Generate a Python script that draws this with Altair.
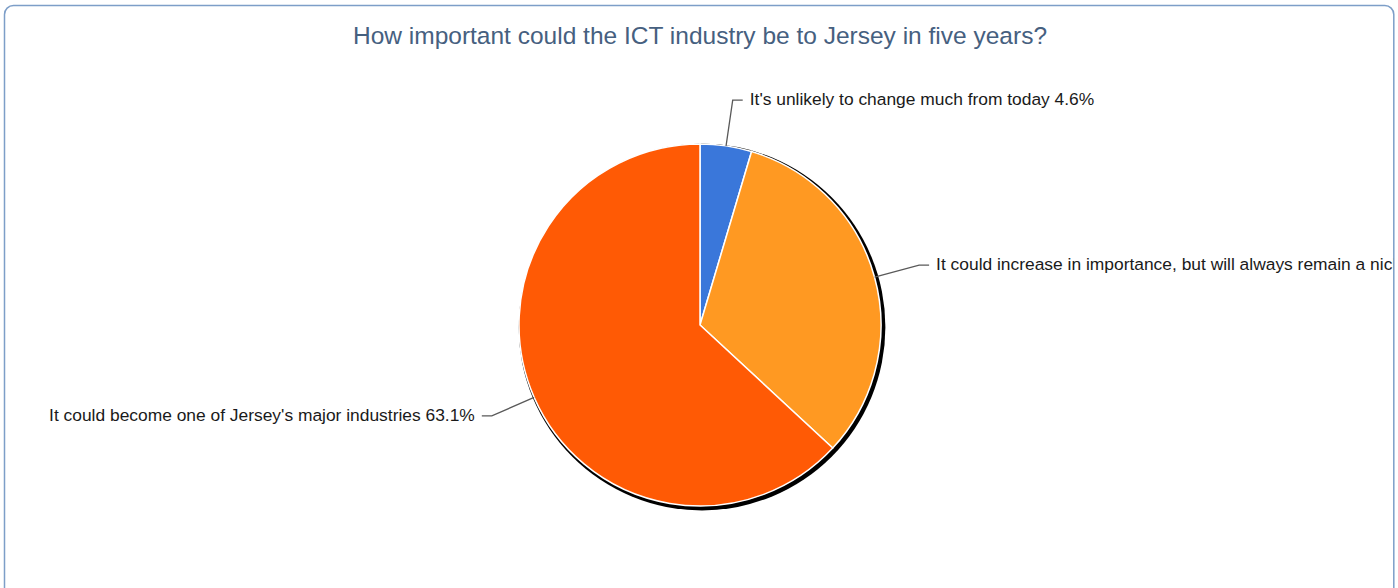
import math
import altair as alt
import pandas as pd

# ---- data ----
categories = [
    "It's unlikely to change much from today",
    "It could increase in importance, but will always remain a niche industry",
    "It could become one of Jersey's major industries",
]
shares = [4.6, 32.3, 63.1]
colors = ["#3A77DA", "#FF9922", "#FF5A05"]
title_text = "How important could the ICT industry be to Jersey in five years?"

# ---- style / geometry ----
W, H = 1398, 588
CX, CY, R = 700, 325, 181
ELBOW_K = 1.255
HSEG = 10
GAP = 7
FONT = "Liberation Sans"
LABEL_SIZE = 17.4

pie_df = pd.DataFrame({
    "idx": list(range(len(categories))),
    "cat": categories,
    "share": shares,
})

# leader lines and label positions derived from slice mid-angles
line_rows, label_rows = [], []
total = sum(shares)
cum = 0.0
for i, (c, s) in enumerate(zip(categories, shares)):
    mid = (cum + s / 2) / total * 2 * math.pi
    cum += s
    sx, cy_ = math.sin(mid), math.cos(mid)
    ex, ey = CX + R * sx, CY - R * cy_
    bx, by = CX + ELBOW_K * R * sx, CY - ELBOW_K * R * cy_
    side = 1 if sx >= 0 else -1
    hx = bx + side * HSEG
    tx = hx + side * GAP
    for j, (px, py) in enumerate([(ex, ey), (bx, by), (hx, by)]):
        line_rows.append({"slice": i, "ord": j, "px": px, "py": py})
    label_rows.append({
        "px": tx, "py": by, "label": f"{c} {s}%",
        "align": "left" if side > 0 else "right",
    })

lines_df = pd.DataFrame(line_rows)
labels_df = pd.DataFrame(label_rows)
one = pd.DataFrame({"k": [0]})

shadow = alt.Chart(one).mark_arc(
    color="black", outerRadius=R + 2.4, theta=0, theta2=2 * math.pi
).encode(x=alt.value(CX + 2.0), y=alt.value(CY + 2.0))

pie = alt.Chart(pie_df).mark_arc(
    outerRadius=R, stroke="white", strokeWidth=1.5
).encode(
    theta=alt.Theta("share:Q", stack=True),
    color=alt.Color("cat:N", scale=alt.Scale(domain=categories, range=colors), legend=None),
    order=alt.Order("idx:Q"),
    x=alt.value(CX),
    y=alt.value(CY),
)

leaders = alt.Chart(lines_df).mark_line(color="#595959", strokeWidth=1.3).encode(
    x=alt.X("px:Q", scale=None),
    y=alt.Y("py:Q", scale=None),
    detail="slice:N",
    order="ord:Q",
)

labels_left = alt.Chart(labels_df[labels_df["align"] == "left"]).mark_text(
    align="left", baseline="middle", font=FONT, fontSize=LABEL_SIZE, color="#1a1a1a"
).encode(x=alt.X("px:Q", scale=None), y=alt.Y("py:Q", scale=None), text="label:N")

labels_right = alt.Chart(labels_df[labels_df["align"] == "right"]).mark_text(
    align="right", baseline="middle", font=FONT, fontSize=LABEL_SIZE, color="#1a1a1a"
).encode(x=alt.X("px:Q", scale=None), y=alt.Y("py:Q", scale=None), text="label:N")

title = alt.Chart(one).mark_text(
    text=title_text, align="center", baseline="alphabetic",
    font=FONT, fontSize=24.5, color="#46607f"
).encode(x=alt.value(700), y=alt.value(44))

mask = alt.Chart(one).mark_rect(color="white").encode(
    x=alt.value(1394), x2=alt.value(W), y=alt.value(0), y2=alt.value(H)
)

border = alt.Chart(one).mark_rect(
    fillOpacity=0, stroke="#7d9ec8", strokeWidth=1.5, cornerRadius=9, clip=True
).encode(
    x=alt.value(4.5), x2=alt.value(1393.8), y=alt.value(5.5), y2=alt.value(640)
)

chart = alt.layer(
    shadow, pie, leaders, labels_left, labels_right, title, mask, border
).properties(
    width=W, height=H, padding=0,
    autosize=alt.AutoSizeParams(type="none"),
    background="white",
).configure_view(stroke=None)

chart.save("out.html", embed_options={"renderer": "svg", "actions": False})
